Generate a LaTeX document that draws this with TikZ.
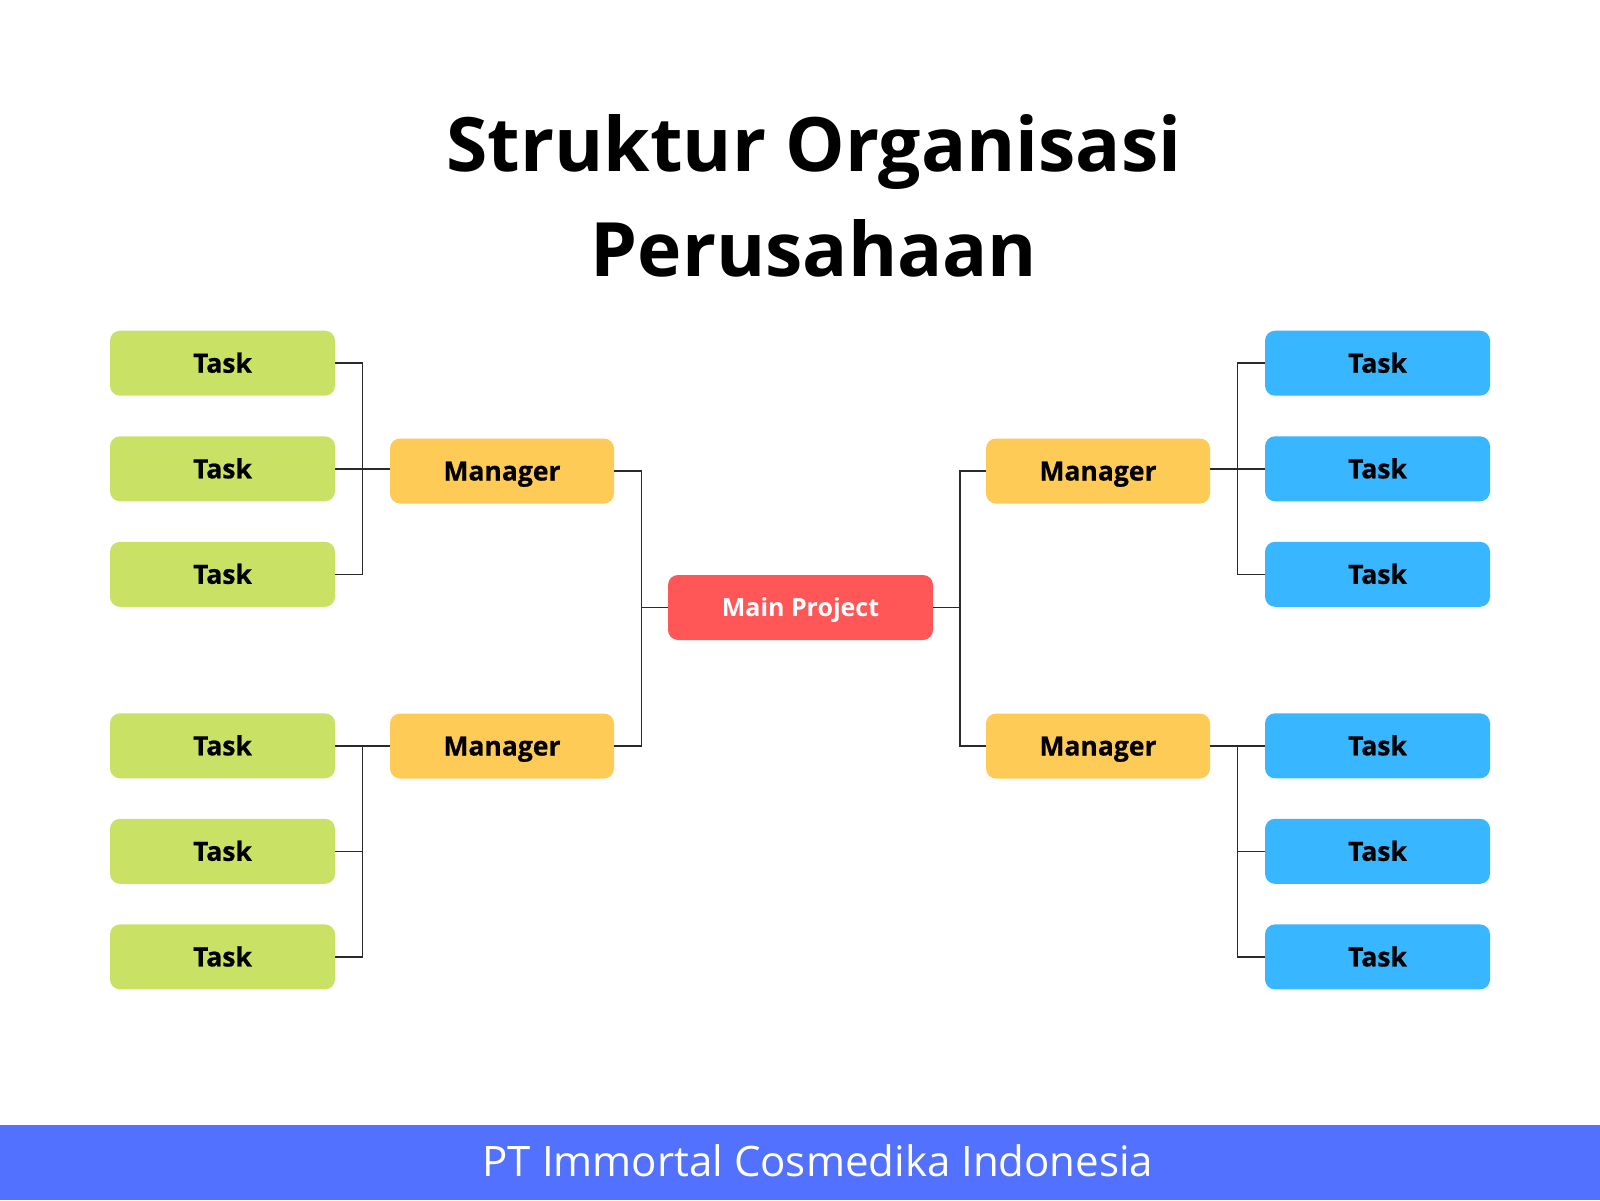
\documentclass[tikz,border=0pt]{standalone}
\usepackage{fontspec}
\setmainfont{Open Sans}
\newfontfamily\heavyfont{Open Sans}[BoldFeatures={FakeBold=0.7}]
\definecolor{taskgreen}{HTML}{C9E265}
\definecolor{taskblue}{HTML}{38B6FF}
\definecolor{mgrcol}{HTML}{FFCB57}
\definecolor{mainred}{HTML}{FF5757}
\definecolor{footcol}{HTML}{5271FF}
\definecolor{wirecol}{HTML}{2A2A2A}
\begin{document}
\begin{tikzpicture}[x=1pt,y=-1pt,
 box/.style={rounded corners=10pt, minimum width=225pt, minimum height=65pt, inner sep=0pt,
   text height=19pt, text depth=0pt, font=\heavyfont\fontsize{26.5}{30}\selectfont\bfseries, text=black},
 taskL/.style={box, fill=taskgreen},
 taskR/.style={box, fill=taskblue},
 mgrbox/.style={box, fill=mgrcol, minimum width=224pt},
 mainbox/.style={box, fill=mainred, minimum width=265pt, text=white, text height=18pt,
   font=\fontsize{25}{30}\selectfont\bfseries},
 wire/.style={draw=wirecol, line width=1.5pt}]
\useasboundingbox (0,0) rectangle (1600,1200);
\fill[white] (0,0) rectangle (1600,1200);
\fill[footcol] (0,1125) rectangle (1600,1200);

% title
\node[font=\fontsize{75}{90}\selectfont\bfseries, anchor=base, inner sep=0pt] (title1) at (814,171.7) {Struktur Organisasi};
\node[font=\fontsize{75}{90}\selectfont\bfseries, anchor=base, inner sep=0pt] (title2) at (814,276.7) {Perusahaan};

% left tasks
\node[taskL] (l1) at (222.5,363.2) {Task};
\node[taskL] (l2) at (222.5,468.8) {Task};
\node[taskL] (l3) at (222.5,574.3) {Task};
\node[taskL] (l4) at (222.5,745.8) {Task};
\node[taskL] (l5) at (222.5,851.3) {Task};
\node[taskL] (l6) at (222.5,956.9) {Task};

% managers
\node[mgrbox] (lm1) at (502,471) {Manager};
\node[mgrbox] (lm2) at (502,746) {Manager};
\node[mgrbox] (rm1) at (1098,471) {Manager};
\node[mgrbox] (rm2) at (1098,746) {Manager};

% main
\node[mainbox] (main) at (800.5,607.5) {Main Project};

% right tasks
\node[taskR] (r1) at (1377.5,363.2) {Task};
\node[taskR] (r2) at (1377.5,468.8) {Task};
\node[taskR] (r3) at (1377.5,574.3) {Task};
\node[taskR] (r4) at (1377.5,745.8) {Task};
\node[taskR] (r5) at (1377.5,851.3) {Task};
\node[taskR] (r6) at (1377.5,956.9) {Task};

% bus coordinates
\coordinate (bl) at (362.5,0);
\coordinate (bcl) at (641.7,0);
\coordinate (bcr) at (960,0);
\coordinate (br) at (1237.7,0);

% left top group
\draw[wire] (l1.east) -- (l1.east -| bl) -- (l3.east -| bl) -- (l3.east);
\draw[wire] (l2.east) -- (lm1.west |- l2.east);
% left bottom group
\draw[wire] (l4.east) -- (lm2.west |- l4.east);
\draw[wire] (l4.east -| bl) -- (l6.east -| bl) -- (l6.east);
\draw[wire] (l5.east) -- (l5.east -| bl);
% center left
\draw[wire] (lm1.east) -- (lm1.east -| bcl) -- (lm2.east -| bcl) -- (lm2.east);
\draw[wire] (main.west) -- (main.west -| bcl);
% center right
\draw[wire] (rm1.west) -- (rm1.west -| bcr) -- (rm2.west -| bcr) -- (rm2.west);
\draw[wire] (main.east) -- (main.east -| bcr);
% right top group
\draw[wire] (r1.west) -- (r1.west -| br) -- (r3.west -| br) -- (r3.west);
\draw[wire] (r2.west) -- (rm1.east |- r2.west);
% right bottom group
\draw[wire] (r4.west) -- (rm2.east |- r4.west);
\draw[wire] (r4.west -| br) -- (r6.west -| br) -- (r6.west);
\draw[wire] (r5.west) -- (r5.west -| br);

% footer
\node[font=\fontsize{42}{50}\selectfont, text=white, anchor=base, inner sep=0pt] (foot) at (818,1176.7) {PT Immortal Cosmedika Indonesia};
\end{tikzpicture}
\end{document}
